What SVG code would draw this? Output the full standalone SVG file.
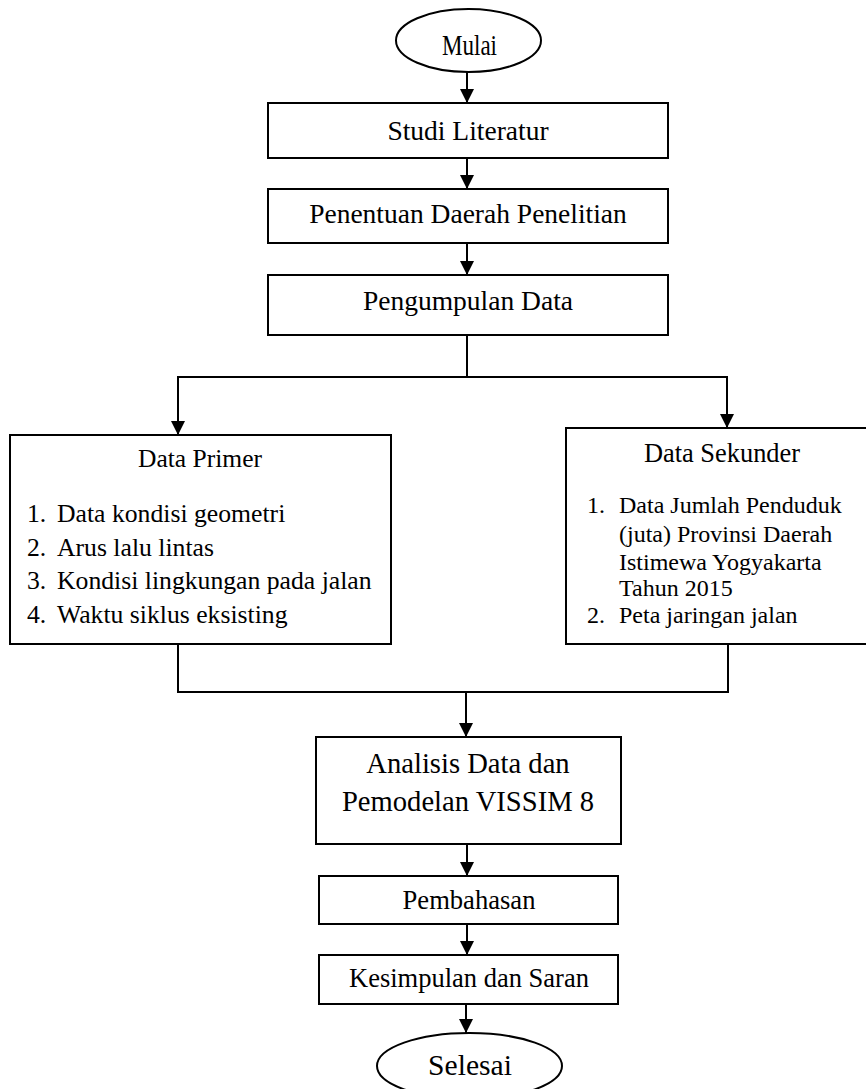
<svg xmlns="http://www.w3.org/2000/svg" width="866" height="1089" viewBox="0 0 866 1089">
<style>
.box{fill:#fff;stroke:#000;stroke-width:2}
.t{font-family:"Liberation Serif","Times New Roman",serif;fill:#000}
.c{text-anchor:middle}
.ln{fill:none;stroke:#000;stroke-width:2}
</style>
<defs>
<marker id="ah" markerUnits="userSpaceOnUse" markerWidth="14" markerHeight="14" viewBox="0 0 14 14" refX="14" refY="7" orient="auto">
<path d="M0,0 L14,7 L0,14 z" fill="#000"/>
</marker>
</defs>
<rect width="866" height="1089" fill="#fff"/>
<g id="connectors">
<path class="ln" d="M467,72 V103" marker-end="url(#ah)"/>
<path class="ln" d="M467,158 V189" marker-end="url(#ah)"/>
<path class="ln" d="M467,243 V275" marker-end="url(#ah)"/>
<path class="ln" d="M467,335 V377 M178,377 H727"/>
<path class="ln" d="M178,376 V435" marker-end="url(#ah)"/>
<path class="ln" d="M727,376 V428" marker-end="url(#ah)"/>
<path class="ln" d="M178,644 V692 H728 V644"/>
<path class="ln" d="M466,691 V737" marker-end="url(#ah)"/>
<path class="ln" d="M467,844 V876" marker-end="url(#ah)"/>
<path class="ln" d="M467,924 V955" marker-end="url(#ah)"/>
<path class="ln" d="M466,1004 V1033" marker-end="url(#ah)"/>
</g>
<g id="mulai">
<ellipse class="box" cx="468.5" cy="40.5" rx="72.5" ry="31.5"/>
<text class="t" x="442" y="55" font-size="30" textLength="55" lengthAdjust="spacingAndGlyphs">Mulai</text>
</g>
<g id="studi">
<rect class="box" x="268" y="103" width="400" height="55"/>
<text class="t c" x="468" y="140" font-size="27.5">Studi Literatur</text>
</g>
<g id="penentuan">
<rect class="box" x="268" y="189" width="400" height="54"/>
<text class="t c" x="468" y="223" font-size="27.5">Penentuan Daerah Penelitian</text>
</g>
<g id="pengumpulan">
<rect class="box" x="268" y="275" width="400" height="60"/>
<text class="t c" x="468" y="310" font-size="27.5">Pengumpulan Data</text>
</g>
<g id="primer">
<rect class="box" x="10" y="435" width="381" height="209"/>
<text class="t c" x="200" y="467" font-size="25.5">Data Primer</text>
<g class="t" font-size="25.7">
<text x="27" y="522">1.</text><text x="57" y="522">Data kondisi geometri</text>
<text x="27" y="556">2.</text><text x="57" y="556">Arus lalu lintas</text>
<text x="27" y="589">3.</text><text x="57" y="589">Kondisi lingkungan pada jalan</text>
<text x="27" y="623">4.</text><text x="57" y="623">Waktu siklus eksisting</text>
</g>
</g>
<g id="sekunder">
<rect class="box" x="566" y="428" width="310" height="216"/>
<text class="t c" x="722" y="462" font-size="26.4">Data Sekunder</text>
<g class="t" font-size="24">
<text x="587" y="513">1.</text><text x="619" y="513">Data Jumlah Penduduk</text>
<text x="619" y="542">(juta) Provinsi Daerah</text>
<text x="619" y="570">Istimewa Yogyakarta</text>
<text x="619" y="596">Tahun 2015</text>
<text x="587" y="623">2.</text><text x="619" y="623">Peta jaringan jalan</text>
</g>
</g>
<g id="analisis">
<rect class="box" x="316" y="737" width="305" height="107"/>
<text class="t c" x="468" y="773" font-size="28.6">Analisis Data dan</text>
<text class="t c" x="468" y="811" font-size="28.6">Pemodelan VISSIM 8</text>
</g>
<g id="pembahasan">
<rect class="box" x="319" y="876" width="299" height="48"/>
<text class="t c" x="469" y="909" font-size="26.6">Pembahasan</text>
</g>
<g id="kesimpulan">
<rect class="box" x="319" y="955" width="299" height="49"/>
<text class="t c" x="469" y="987" font-size="26.5">Kesimpulan dan Saran</text>
</g>
<g id="selesai">
<ellipse class="box" cx="469.5" cy="1066" rx="92.5" ry="33"/>
<text class="t c" x="470" y="1075" font-size="29.6">Selesai</text>
</g>
</svg>
